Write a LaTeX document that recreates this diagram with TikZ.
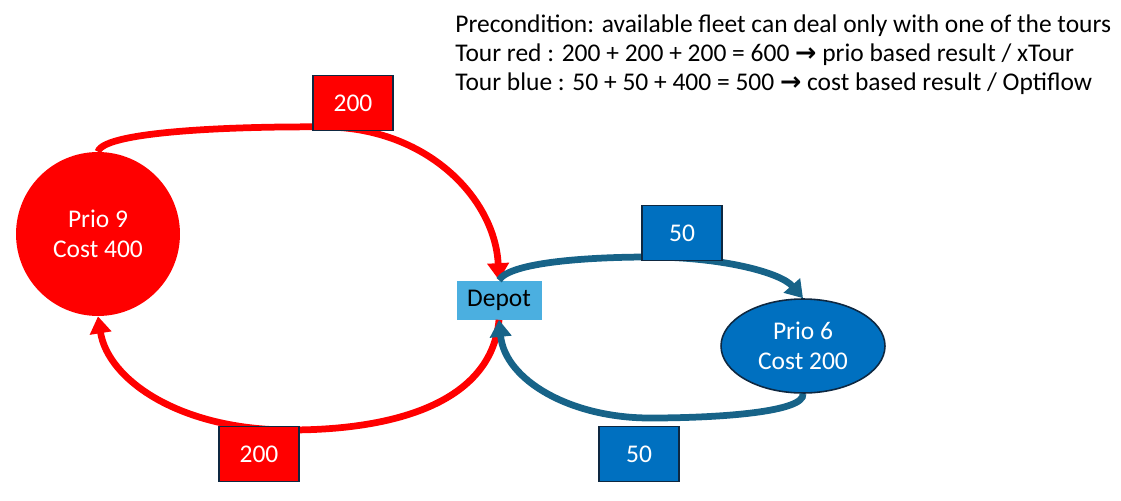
\documentclass[tikz,border=0pt]{standalone}
\usepackage{fontspec}
\setmainfont{Carlito}
\newfontfamily\arrowfont{DejaVu Sans}
\usetikzlibrary{arrows.meta,shapes.geometric}
\definecolor{navy}{HTML}{0E2841}
\definecolor{officeblue}{HTML}{0070C0}
\definecolor{depotblue}{HTML}{4BAFE0}
\definecolor{tourblue}{HTML}{176388}

\begin{document}
\begin{tikzpicture}[x=0.02cm,y=-0.02cm,
    every node/.style={font=\fontsize{14.5}{17}\selectfont},
    cost/.style={draw=navy,line width=0.9pt,minimum width=1.6cm,minimum height=1.1cm,inner sep=0pt,text=white},
    redcost/.style={cost,fill=red},
    bluecost/.style={cost,fill=officeblue},
    tour/.style={line width=0.135cm,-{Triangle[width=0.42cm,length=0.34cm]}},
    redtour/.style={tour,draw=red},
    bluetour/.style={tour,draw=tourblue}]
  \useasboundingbox (0,0) rectangle (1121,500);
  \node[circle,fill=red,minimum size=3.28cm,inner sep=0pt,text=white,align=center] (prio9) at (98,234) {Prio 9\\Cost 400};
  \node[ellipse,draw=navy,line width=0.9pt,fill=officeblue,minimum width=3.28cm,minimum height=1.88cm,inner sep=0pt,text=white,align=center] (prio6) at (803,346) {Prio 6\\Cost 200};
  \node[fill=depotblue,minimum width=1.7cm,minimum height=0.78cm,inner sep=0pt] (depot) at (499,300) {Depot};
  % tour red
  \begin{scope}
    \draw[redtour] (prio9.north) .. controls (104,130) and (250,126) .. (330,127) .. controls (430,130) and (495,200) .. (depot.north);
    \draw[redtour] (depot.south) .. controls (492,400) and (400,430) .. (290,430) .. controls (180,430) and (108,380) .. (prio9.south);
  \end{scope}
  % tour blue
  \begin{scope}
    \draw[bluetour] (depot.north) .. controls (510,262) and (590,257) .. (650,257) .. controls (720,257) and (780,272) .. (prio6.north);
    \draw[bluetour] (prio6.south) .. controls (805,412) and (720,418) .. (650,418) .. controls (570,418) and (505,380) .. (depot.south);
  \end{scope}
  \node[redcost] (r1) at (353,103) {200};
  \node[redcost] (r2) at (259,454) {200};
  \node[bluecost] (b1) at (682,233) {50};
  \node[bluecost] (b2) at (639,454) {50};
  \node[anchor=base west,inner sep=0pt] (cond) at (455,33) {Precondition: available fleet can deal only with one of the tours};
  \node[anchor=base west,inner sep=0pt] (redsum) at (455,62) {Tour red : 200 + 200 + 200 = 600 {\arrowfont\bfseries →} prio based result / xTour};
  \node[anchor=base west,inner sep=0pt] (bluesum) at (455,91) {Tour blue : 50 + 50 + 400 = 500 {\arrowfont\bfseries →} cost based result / Optiflow};
\end{tikzpicture}
\end{document}
